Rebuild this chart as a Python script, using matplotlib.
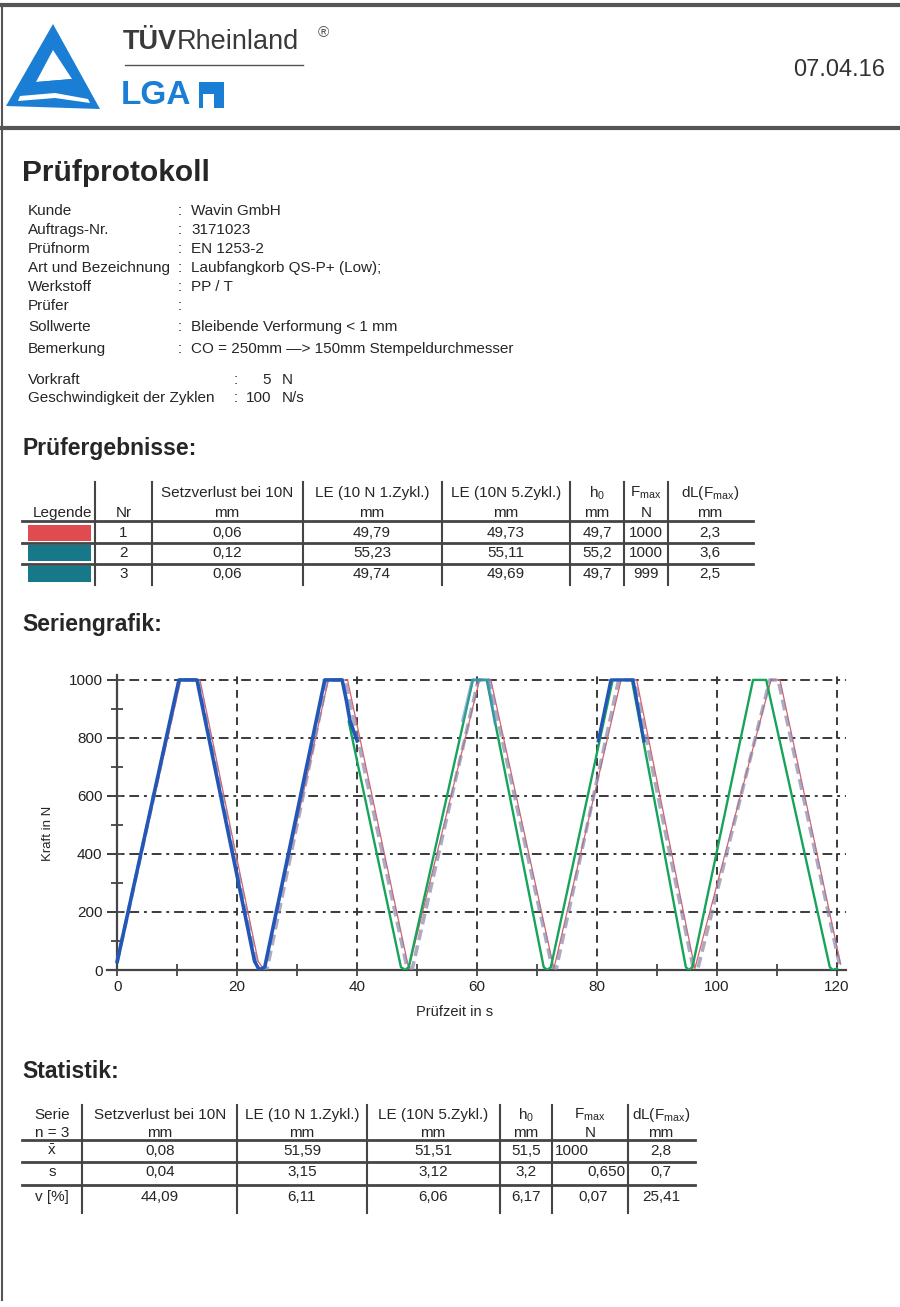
import numpy as np
import matplotlib.pyplot as plt
from matplotlib.patches import Polygon, Rectangle

plt.rcParams['font.family'] = ['Liberation Sans', 'DejaVu Sans']
plt.rcParams['mathtext.fontset'] = 'custom'
plt.rcParams['mathtext.rm'] = 'Liberation Sans'
plt.rcParams['mathtext.it'] = 'Liberation Sans:italic'
plt.rcParams['mathtext.bf'] = 'Liberation Sans:bold'

# Kopfdaten
datum = "07.04.16"
info_labels = ["Kunde", "Auftrags-Nr.", "Prüfnorm", "Art und Bezeichnung",
               "Werkstoff", "Prüfer", "Sollwerte", "Bemerkung"]
info_values = ["Wavin GmbH", "3171023", "EN 1253-2", "Laubfangkorb QS-P+ (Low);",
               "PP / T", "", "Bleibende Verformung < 1 mm",
               "CO = 250mm —> 150mm Stempeldurchmesser"]
vorgabe_labels = ["Vorkraft", "Geschwindigkeit der Zyklen"]
vorgabe_werte = ["5", "100"]
vorgabe_einheit = ["N", "N/s"]

# Prüfergebnisse
kopf_1 = ["Nr", "Setzverlust bei 10N", "LE (10 N 1.Zykl.)", "LE (10N 5.Zykl.)",
          r"h$_0$", r"F$_{\mathrm{max}}$", r"dL(F$_{\mathrm{max}}$)"]
kopf_2 = ["", "mm", "mm", "mm", "mm", "N", "mm"]
nr = ["1", "2", "3"]
setzverlust = ["0,06", "0,12", "0,06"]
le_1 = ["49,79", "55,23", "49,74"]
le_5 = ["49,73", "55,11", "49,69"]
h_0 = ["49,7", "55,2", "49,7"]
f_max = ["1000", "1000", "999"]
dl_fmax = ["2,3", "3,6", "2,5"]
legende_farben = ["#e04b4f", "#17788a", "#17788a"]

# Statistik
stat_kopf_1 = ["Serie", "Setzverlust bei 10N", "LE (10 N 1.Zykl.)", "LE (10N 5.Zykl.)",
               r"h$_0$", r"F$_{\mathrm{max}}$", r"dL(F$_{\mathrm{max}}$)"]
stat_kopf_2 = ["n = 3", "mm", "mm", "mm", "mm", "N", "mm"]
stat_namen = [r"$\bar{\mathrm{x}}$", "s", "v [%]"]
stat_setz = ["0,08", "0,04", "44,09"]
stat_le_1 = ["51,59", "3,15", "6,11"]
stat_le_5 = ["51,51", "3,12", "6,06"]
stat_h_0 = ["51,5", "3,2", "6,17"]
stat_fmax = ["1000", "0,650", "0,07"]
stat_dl = ["2,8", "0,7", "25,41"]

# Kurven (Zeit in s, Kraft in N)
grau_t = [0, 10.4, 13.5, 23.2, 24.2, 25.0, 35.0, 38.0, 48.3, 49.2, 60.2, 62.0,
          72.5, 73.2, 83.6, 86.2, 96.0, 96.8, 108.8, 110.2, 120.4]
grau_f = [29, 1000, 1000, 30, 0, 5, 1000, 1000, 10, 5, 1000, 1000,
          10, 5, 1000, 1000, 10, 5, 1000, 1000, 20]
rot_t = [0, 10.6, 13.8, 23.5, 24.5, 35.2, 38.4, 48.6, 60.4, 62.3, 72.8, 84.0, 86.6,
         96.3, 109.0, 110.5, 120.6]
rot_f = [29, 1000, 1000, 30, 0, 1000, 1000, 5, 1000, 1000, 5, 1000, 1000,
         5, 1000, 1000, 20]
gruen_t = [38.6, 47.3, 48.0, 48.6, 59.3, 61.6, 71.1, 71.7, 72.3, 82.6, 85.8,
           94.8, 95.3, 95.9, 106.0, 108.2, 118.8, 119.3, 120.0]
gruen_f = [856, 10, 0, 10, 1000, 1000, 10, 0, 10, 1000, 1000,
           10, 0, 10, 1000, 1000, 10, 0, 5]
blau_t = [0, 10.3, 13.3, 22.9, 23.7, 24.6, 34.6, 37.5, 38.2, 38.8, 40.0]
blau_f = [29, 1000, 1000, 30, 0, 10, 1000, 1000, 930, 860, 790]
blau3_t = [57.6, 59.2, 61.8, 63.0]
blau3_f = [860, 1000, 1000, 850]
blau4_t = [80.2, 82.3, 86.0, 87.8]
blau4_f = [790, 1000, 1000, 790]

x_ticks = [0, 20, 40, 60, 80, 100, 120]
y_ticks = [0, 200, 400, 600, 800, 1000]

W, H = 900, 1307
fig = plt.figure(figsize=(W / 100, H / 100), dpi=100)
page = fig.add_axes([0, 0, 1, 1])
page.set_xlim(0, W)
page.set_ylim(H, 0)
page.axis('off')

ink = "#262626"
linie = "#454545"
fs = 11

# Rahmen
page.plot([0, W], [5, 5], color="#555555", lw=3)
page.plot([0, W], [128, 128], color="#555555", lw=3)
page.plot([2, 2], [5, 1300], color="#555555", lw=1.5)

# Logo
blau_logo = "#1a7fd4"
page.add_patch(Polygon([(53, 24), (6, 106), (100, 109)], closed=True, color=blau_logo, lw=0))
page.add_patch(Polygon([(53, 50), (36, 82), (72, 79)], closed=True, color="white", lw=0))
page.add_patch(Polygon([(36, 82), (72, 79), (74, 84), (39, 88)], closed=True, color=blau_logo, lw=0))
page.add_patch(Polygon([(20, 96), (55, 93), (88, 99), (90, 103), (55, 98), (18, 101)],
                       closed=True, color="white", lw=0))
t1 = page.text(123, 42, "TÜV", fontsize=19.5, fontweight="bold", color="#3a3a3a", va="center")
fig.canvas.draw()
bb = t1.get_window_extent()
page.text(123 + bb.width, 42, "Rheinland", fontsize=19.5, color="#3a3a3a", va="center")
page.text(318, 33, "®", fontsize=11, color="#555555", va="center")
page.plot([125, 303], [65, 65], color="#555555", lw=1)
page.text(121, 95, "LGA", fontsize=24, fontweight="bold", color=blau_logo, va="center")
page.add_patch(Rectangle((199, 82), 25, 26, color=blau_logo, lw=0))
page.add_patch(Rectangle((203, 94), 11, 14, color="white", lw=0))
page.text(885, 70, datum, fontsize=17, color="#333333", ha="right", va="center")

# Titel
page.text(22, 173, "Prüfprotokoll", fontsize=21.5, fontweight="bold", color=ink, va="center")
info_y = [211, 230, 249, 268, 287, 306, 327, 349]
for y, lab, val in zip(info_y, info_labels, info_values):
    page.text(28, y, lab, fontsize=fs, color=ink, va="center")
    page.text(178, y, ":", fontsize=fs, color=ink, va="center")
    page.text(191, y, val, fontsize=fs, color=ink, va="center")
for y, lab, val, ein in zip([380, 398], vorgabe_labels, vorgabe_werte, vorgabe_einheit):
    page.text(28, y, lab, fontsize=fs, color=ink, va="center")
    page.text(234, y, ":", fontsize=fs, color=ink, va="center")
    page.text(271, y, val, fontsize=fs, color=ink, va="center", ha="right")
    page.text(282, y, ein, fontsize=fs, color=ink, va="center")

# Prüfergebnisse
page.text(22, 449, "Prüfergebnisse:", fontsize=16.5, fontweight="bold", color=ink, va="center")
vl_1 = [95, 152, 303, 442, 570, 624, 668]
mitte_1 = [123.5, 227, 372, 506, 597, 646, 710]
for x in vl_1:
    page.plot([x, x], [482, 585], color=linie, lw=1.5)
for y in [521, 543, 564]:
    page.plot([22, 753], [y, y], color=linie, lw=2)
page.text(92, 513, "Legende", fontsize=fs, color=ink, ha="right", va="center")
for x, k1, k2 in zip(mitte_1, kopf_1, kopf_2):
    if k2:
        page.text(x, 493, k1, fontsize=fs, color=ink, ha="center", va="center")
        page.text(x, 513, k2, fontsize=fs, color=ink, ha="center", va="center")
    else:
        page.text(x, 513, k1, fontsize=fs, color=ink, ha="center", va="center")
zeilen_y = [533, 553, 574]
spalten = [nr, setzverlust, le_1, le_5, h_0, f_max, dl_fmax]
for i, y in enumerate(zeilen_y):
    page.add_patch(Rectangle((28, y - 8), 63, 16, color=legende_farben[i], lw=0))
    for x, sp in zip(mitte_1, spalten):
        page.text(x, y, sp[i], fontsize=fs, color=ink, ha="center", va="center")

# Seriengrafik
page.text(22, 624, "Seriengrafik:", fontsize=16.5, fontweight="bold", color=ink, va="center")
ax = fig.add_axes([107 / W, 1 - 970 / H, 739 / W, 295 / H])
ax.patch.set_alpha(0)
ax.set_xlim(-1.7, 121.5)
ax.set_ylim(0, 1017)
ax.plot(rot_t, rot_f, color="#d9606a", lw=0.9, zorder=3)
ax.plot(grau_t, grau_f, color="#8c86a8", lw=2.6, alpha=0.7, ls=(0, (3, 1.5)), zorder=4)
ax.plot(gruen_t, gruen_f, color="#16a35a", lw=1.7, zorder=5)
ax.plot(blau3_t, blau3_f, color="#4d8fd0", lw=2.2, alpha=0.6, zorder=5)
ax.plot(blau_t, blau_f, color="#2257b8", lw=2.6, zorder=6)
ax.plot(blau4_t, blau4_f, color="#2257b8", lw=2.3, zorder=6)

ax.set_xticks(x_ticks)
ax.set_xticks([10, 30, 50, 70, 90, 110], minor=True)
ax.set_yticks(y_ticks)
ax.set_yticks([100, 300, 500, 700, 900], minor=True)
for yv in y_ticks[1:]:
    ax.axhline(yv, color="#3a3a3a", lw=1.4, ls=(0, (5, 2.5, 1.5, 2.5)), zorder=1)
for xv in x_ticks[1:]:
    ax.axvline(xv, color="#3a3a3a", lw=1.4, ls=(0, (4, 3)), zorder=1)
for s in ["top", "right"]:
    ax.spines[s].set_visible(False)
ax.spines["left"].set_position(("data", 0))
for s in ["left", "bottom"]:
    ax.spines[s].set_color(linie)
    ax.spines[s].set_linewidth(1.6)
ax.tick_params(which="both", direction="inout", length=9, width=1.3, color=linie,
               labelsize=11, labelcolor="#222222")
ax.tick_params(axis="y", pad=6)
ax.tick_params(axis="x", pad=3)
page.text(455, 1012, "Prüfzeit in s", fontsize=10.5, color=ink, ha="center", va="center")
page.text(48, 833, "Kraft in N", fontsize=9.5, color=ink, ha="center", va="center", rotation=90)

# Statistik
page.text(22, 1072, "Statistik:", fontsize=16.5, fontweight="bold", color=ink, va="center")
vl_2 = [82, 237, 367, 500, 552, 628]
mitte_2 = [52, 160, 302, 433, 526, 590, 661]
for x in vl_2:
    page.plot([x, x], [1105, 1213], color=linie, lw=1.5)
for y in [1140, 1162, 1185]:
    page.plot([22, 695], [y, y], color=linie, lw=2)
for x, k1, k2 in zip(mitte_2, stat_kopf_1, stat_kopf_2):
    page.text(x, 1115, k1, fontsize=fs, color=ink, ha="center", va="center")
    page.text(x, 1133, k2, fontsize=fs, color=ink, ha="center", va="center")
stat_y = [1151, 1172, 1197]
stat_spalten = [stat_namen, stat_setz, stat_le_1, stat_le_5, stat_h_0, stat_fmax, stat_dl]
fmax_pos = [(555, "left"), (625, "right"), (593, "center")]
for i, y in enumerate(stat_y):
    for j, (x, sp) in enumerate(zip(mitte_2, stat_spalten)):
        ha = "center"
        if j == 5:
            x, ha = fmax_pos[i]
        page.text(x, y, sp[i], fontsize=fs, color=ink, ha=ha, va="center")

fig.savefig("out.png", dpi=100)
